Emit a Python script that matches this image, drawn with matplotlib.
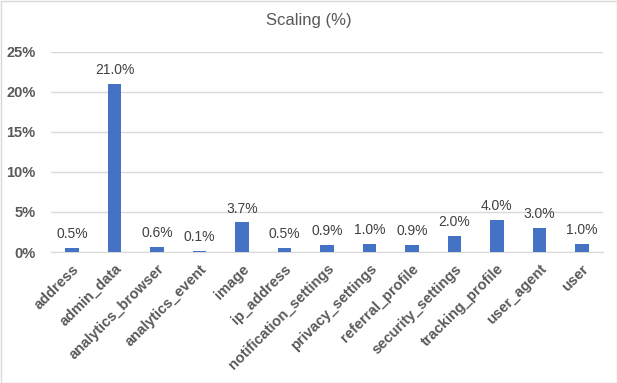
import matplotlib
matplotlib.use("Agg")
import matplotlib.pyplot as plt
from matplotlib.patches import Rectangle

categories = ["address", "admin_data", "analytics_browser", "analytics_event", "image",
              "ip_address", "notification_settings", "privacy_settings", "referral_profile",
              "security_settings", "tracking_profile", "user_agent", "user"]
values = [0.5, 21.0, 0.6, 0.1, 3.7, 0.5, 0.9, 1.0, 0.9, 2.0, 4.0, 3.0, 1.0]
yticks = [0, 5, 10, 15, 20, 25]
title = "Scaling (%)"

plt.rcParams['font.family'] = ['Liberation Sans', 'DejaVu Sans']
W, H = 617, 383
fig = plt.figure(figsize=(W/100, H/100), dpi=100)
fig.patches.append(Rectangle((0.5/W, 0.5/H), 1-1/W, 1-1/H, transform=fig.transFigure,
                             fill=False, edgecolor='#D9D9D9', linewidth=1))
ax = fig.add_axes([51/W, 1-252/H, (603-51)/W, 200/H])
x = range(len(categories))
ax.bar(x, values, width=0.32, color='#4472C4', zorder=3)
ax.set_xlim(-0.5, len(categories)-0.5)
ax.set_ylim(0, 25)
ax.set_yticks(yticks)
ax.set_yticklabels([f"{v}%" for v in yticks], fontsize=10.5, fontweight='bold', color='#595959')
ax.set_xticks(list(x))
ax.set_xticklabels(categories, rotation=45, ha='right', rotation_mode='anchor',
                   fontsize=10.5, fontweight='bold', color='#595959')
ax.tick_params(axis='x', length=0, pad=7)
ax.tick_params(axis='y', length=0, pad=11)
ax.grid(axis='y', color='#D9D9D9', linewidth=1, zorder=0)
for s in ['top', 'right', 'left']:
    ax.spines[s].set_visible(False)
ax.spines['bottom'].set_color('#D9D9D9')
for i, v in enumerate(values):
    ax.annotate(f"{v:.1f}%", (i, v), xytext=(0, 10), textcoords='offset points',
                ha='center', va='center', fontsize=10, color='#404040')
fig.text(308.5/W, 1-20/H, title, ha='center', va='center', fontsize=12, color='#595959')
fig.savefig("out.png", dpi=100)
